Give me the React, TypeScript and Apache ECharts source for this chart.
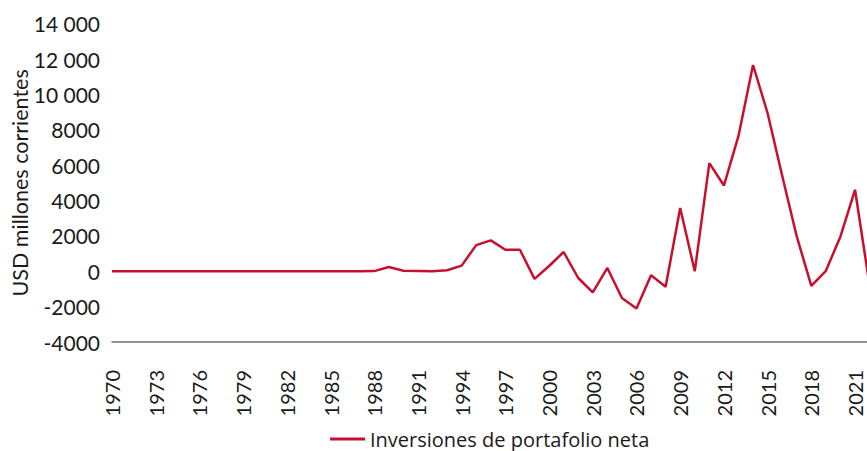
import React, { useEffect, useRef } from "react";
import * as echarts from "echarts";

const years: string[] = [];
for (let y = 1970; y <= 2022; y++) years.push(String(y));

const values: number[] = [
  // 1970-1987
  0, 0, 0, 0, 0, 0, 0, 0, 0, 0, 0, 0, 0, 0, 0, 0, 0, 0,
  // 1988-1999
  10, 240, 30, 20, 0, 60, 320, 1480, 1750, 1220, 1220, -430,
  // 2000-2011
  300, 1090, -380, -1190, 190, -1510, -2110, -230, -880, 3580, 0, 6120,
  // 2012-2022
  4850, 7660, 11670, 8940, 5400, 1970, -820, 30, 1970, 4610, -800,
];

const seriesName = "Inversiones de portafolio neta";
const yAxisName = "USD millones corrientes";
const FONT = "Lato, 'Open Sans', sans-serif";
const LEGEND_FONT = "'Open Sans', Lato, sans-serif";

function fmtY(v: number): string {
  const s = String(Math.abs(v));
  const body = Math.abs(v) >= 10000 ? s.replace(/\B(?=(\d{3})+(?!\d))/g, " ") : s;
  return (v < 0 ? "-" : "") + body;
}

export default function App() {
  const ref = useRef<HTMLDivElement>(null);
  useEffect(() => {
    if (!ref.current) return;
    const chart = echarts.init(ref.current, undefined, { renderer: "svg" });
    chart.setOption({
      animation: false,
      textStyle: { fontFamily: FONT },
      grid: {
        left: 112,
        top: 23.8,
        bottom: 109,
        right: 20.4,
        containLabel: false,
        outerBoundsMode: "none",
      },
      legend: {
        left: 325,
        top: 424,
        icon: "rect",
        itemWidth: 35,
        itemHeight: 3,
        itemGap: 10,
        textStyle: { fontFamily: LEGEND_FONT, fontSize: 20, color: "#1a1a1a" },
        data: [seriesName],
      },
      xAxis: {
        type: "category",
        data: years,
        boundaryGap: false,
        axisLine: { show: true, onZero: false, lineStyle: { color: "#6e6e6e", width: 1.5 } },
        axisTick: { show: false },
        splitLine: { show: false },
        axisLabel: {
          rotate: 90,
          interval: 2,
          margin: 28,
          fontFamily: FONT,
          fontSize: 20,
          color: "#1a1a1a",
        },
      },
      yAxis: {
        type: "value",
        min: -4000,
        max: 14000,
        interval: 2000,
        name: yAxisName,
        nameLocation: "middle",
        nameGap: 81,
        nameMoveOverlap: false,
        nameTextStyle: { fontFamily: FONT, fontSize: 21.5, color: "#1a1a1a" },
        axisLine: { show: false },
        axisTick: { show: false },
        splitLine: { show: false },
        axisLabel: {
          margin: 12,
          fontFamily: FONT,
          fontSize: 21,
          color: "#1a1a1a",
          formatter: (v: number) => fmtY(v),
        },
      },
      series: [
        {
          name: seriesName,
          type: "line",
          data: values,
          showSymbol: false,
          symbol: "none",
          lineStyle: { color: "#c8102e", width: 2.5 },
          itemStyle: { color: "#c8102e" },
        },
      ],
    });
    return () => chart.dispose();
  }, []);
  return (
    <div style={{ position: "absolute", left: 0, top: 0, width: 867, height: 451, overflow: "hidden" }}>
      <div ref={ref} style={{ width: 890, height: 451 }} />
    </div>
  );
}
